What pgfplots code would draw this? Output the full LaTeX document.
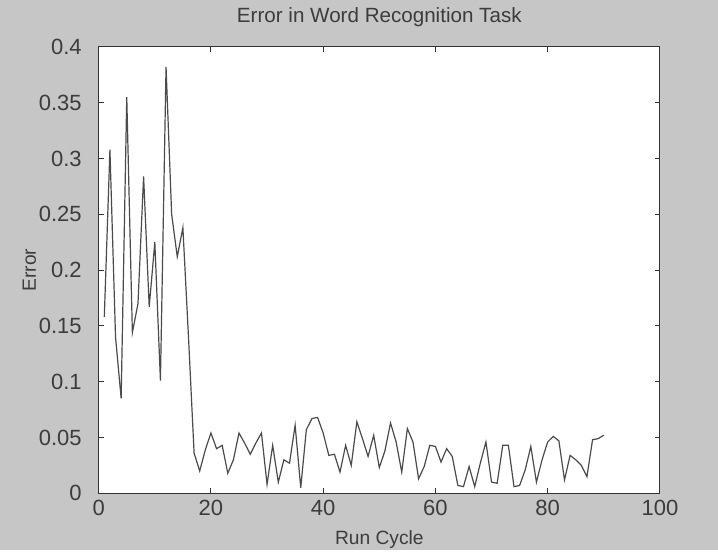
\documentclass[border=0pt]{standalone}
\usepackage{fontspec}
\setmainfont{Liberation Sans}
\usepackage{pgfplots}
\pgfplotsset{compat=1.18}

\definecolor{figbg}{RGB}{198,198,198}
\definecolor{txt}{RGB}{60,60,60}
\definecolor{trace}{RGB}{75,75,75}

% error per run cycle
\pgfplotstableread{
cycle err
1 0.158
2 0.308
3 0.140
4 0.085
5 0.355
6 0.144
7 0.170
8 0.284
9 0.167
10 0.225
11 0.101
12 0.382
13 0.250
14 0.212
15 0.238
16 0.140
17 0.036
18 0.020
19 0.039
20 0.054
21 0.040
22 0.043
23 0.018
24 0.030
25 0.054
26 0.045
27 0.035
28 0.045
29 0.054
30 0.008
31 0.043
32 0.010
33 0.030
34 0.027
35 0.061
36 0.005
37 0.057
38 0.067
39 0.068
40 0.054
41 0.034
42 0.035
43 0.019
44 0.043
45 0.025
46 0.064
47 0.049
48 0.033
49 0.052
50 0.023
51 0.038
52 0.063
53 0.046
54 0.019
55 0.058
56 0.046
57 0.013
58 0.024
59 0.043
60 0.042
61 0.028
62 0.040
63 0.033
64 0.007
65 0.006
66 0.024
67 0.006
68 0.027
69 0.046
70 0.010
71 0.009
72 0.043
73 0.043
74 0.006
75 0.007
76 0.021
77 0.042
78 0.010
79 0.030
80 0.046
81 0.051
82 0.047
83 0.012
84 0.034
85 0.030
86 0.025
87 0.015
88 0.048
89 0.049
90 0.052
}\errdata

\begin{document}
\begin{tikzpicture}
\fill[figbg] (0,0) rectangle (359bp,275bp);
\begin{axis}[
    at={(49.35bp,28.35bp)}, anchor=south west,
    scale only axis,
    width=280.6bp, height=223.2bp,
    xmin=0, xmax=100, ymin=0, ymax=0.4,
    xtick={0,20,40,60,80,100},
    ytick={0,0.05,0.1,0.15,0.2,0.25,0.3,0.35,0.4},
    yticklabel style={/pgf/number format/fixed, /pgf/number format/precision=2},
    /pgf/number format/assume math mode=true,
    tick pos=both, tick align=inside,
    major tick length=2.5bp,
    axis background/.style={fill=white},
    axis line style={draw=black!80, line width=0.5bp},
    every tick/.style={draw=black!80, line width=0.5bp},
    ticklabel style={font=\fontsize{11bp}{13bp}\selectfont, text=txt},
    yticklabel style={xshift=-5bp},
    label style={font=\fontsize{9.6bp}{12bp}\selectfont, text=txt},
    title={Error in Word Recognition Task},
    title style={at={(rel axis cs:0.5,1.027)}, anchor=base,
                 font=\fontsize{10.3bp}{12bp}\selectfont, text=txt},
    xlabel={Run Cycle},
    xlabel style={at={(rel axis cs:0.5,-0.114)}, anchor=base},
    ylabel={Error},
    ylabel style={at={(rel axis cs:-0.112,0.5)}, anchor=base},
]
\addplot[trace, line width=0.6bp] table[x=cycle, y=err] {\errdata};
\end{axis}
\end{tikzpicture}
\end{document}
